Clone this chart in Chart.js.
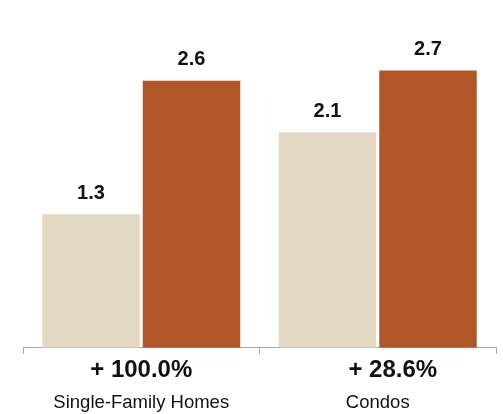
<!DOCTYPE html>
<html>
<head>
<meta charset="utf-8">
<script src="https://cdn.jsdelivr.net/npm/chart.js@4"></script>
<style>
  html, body { margin: 0; padding: 0; background: #ffffff; }
  #wrap { width: 503px; height: 414px; }
</style>
</head>
<body>
<div id="wrap"><canvas id="c" width="503" height="414"></canvas></div>
<script>
// ---- data ----
const categories = ['Single-Family Homes', 'Condos'];
const changeLabels = ['+ 100.0%', '+ 28.6%'];
const seriesEarlier = [1.3, 2.1];
const seriesLater = [2.6, 2.7];

const FONT = '"Liberation Sans", Arial, Helvetica, sans-serif';

const valueLabelPlugin = {
  id: 'valueLabels',
  afterDatasetsDraw(chart) {
    const ctx = chart.ctx;
    ctx.save();
    ctx.font = 'bold 20px ' + FONT;
    ctx.fillStyle = '#111111';
    ctx.textAlign = 'center';
    ctx.textBaseline = 'alphabetic';
    chart.data.datasets.forEach((ds, di) => {
      const meta = chart.getDatasetMeta(di);
      meta.data.forEach((bar, i) => {
        ctx.fillText(ds.data[i].toFixed(1), bar.x, bar.y - 15.5);
      });
    });
    ctx.restore();
  }
};

const changeLabelPlugin = {
  id: 'changeLabels',
  afterDraw(chart, args, opts) {
    const ctx = chart.ctx;
    const xs = chart.scales.x;
    ctx.save();
    ctx.font = 'bold 24px ' + FONT;
    ctx.fillStyle = '#111111';
    ctx.textAlign = 'center';
    ctx.textBaseline = 'alphabetic';
    changeLabels.forEach((t, i) => {
      const dx = (opts.shift && opts.shift[i]) || 0;
      ctx.fillText(t, xs.getPixelForValue(i) + dx, chart.chartArea.bottom + 29);
    });
    ctx.restore();
  }
};

new Chart(document.getElementById('c'), {
  type: 'bar',
  data: {
    labels: categories,
    datasets: [
      { label: 'Earlier', data: seriesEarlier, backgroundColor: '#E3D9C2', borderWidth: 0 },
      { label: 'Later', data: seriesLater, backgroundColor: '#B05627', borderWidth: 0 }
    ]
  },
  options: {
    responsive: false,
    animation: false,
    devicePixelRatio: 1,
    categoryPercentage: 0.85,
    barPercentage: 0.97,
    layout: { padding: { top: 9, left: 23, right: 7, bottom: -38 } },
    plugins: {
      legend: { display: false },
      tooltip: { enabled: false },
      changeLabels: { shift: [0, 15] }
    },
    scales: {
      x: {
        offset: true,
        grid: { display: true, offset: true, drawOnChartArea: false, drawTicks: true, tickLength: 6, color: '#a8a8a8', lineWidth: 1 },
        border: { display: true, color: '#a8a8a8', width: 1 },
        ticks: { color: '#111111', font: { family: FONT, size: 18.5 }, padding: 38, maxRotation: 0 }
      },
      y: {
        display: false,
        min: 0,
        max: 3.3
      }
    }
  },
  plugins: [valueLabelPlugin, changeLabelPlugin]
});
</script>
</body>
</html>
